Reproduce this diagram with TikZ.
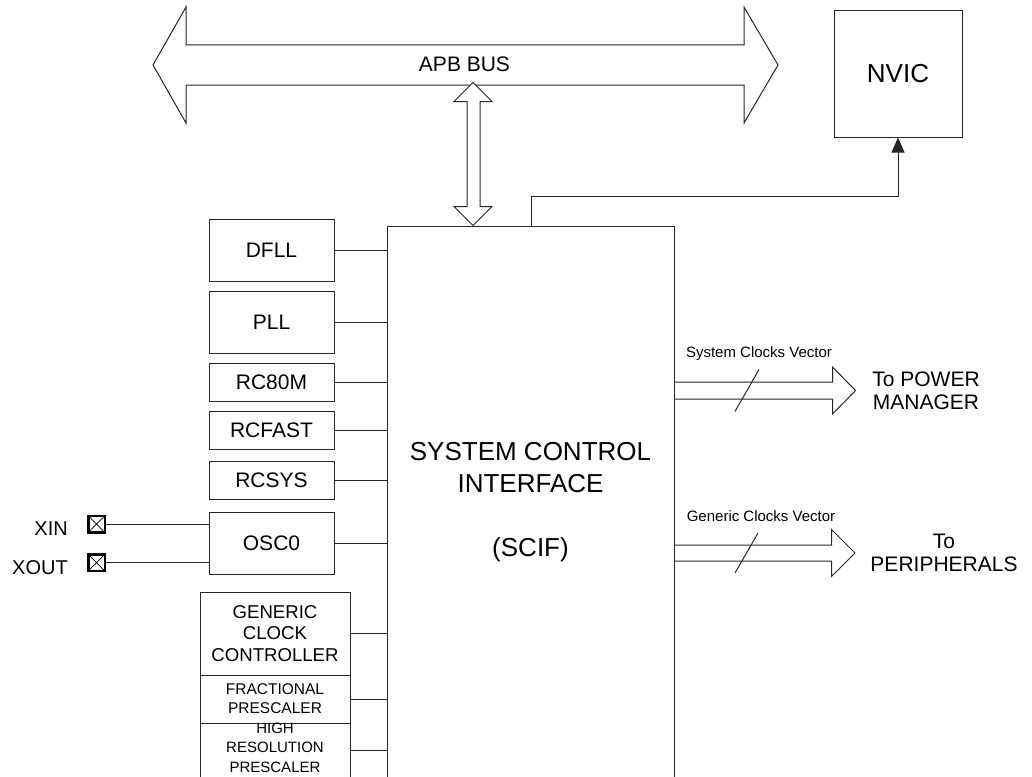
\documentclass[tikz,border=0pt]{standalone}
\usepackage{fontspec}
\setmainfont{Liberation Sans}
\usetikzlibrary{arrows.meta,positioning}
\tikzset{
  blk/.style={rectangle, draw=black!85, line width=1pt, minimum width=125pt, align=center, inner sep=1pt, font=\fontsize{21}{23}\selectfont},
  tallblk/.style={blk, minimum height=62pt},
  lowblk/.style={blk, minimum height=38pt},
  genblk/.style={blk, minimum width=150pt},
  pad/.style={draw=black, line width=2.5pt, minimum size=16.5pt, inner sep=0pt,
    path picture={\draw[line width=0.7pt] (path picture bounding box.south west) -- (path picture bounding box.north east)
      (path picture bounding box.north west) -- (path picture bounding box.south east);}},
  wire/.style={draw=black!85, line width=1pt},
  arr/.style={wire, -{Triangle[length=15pt,width=13pt]}},
  fat/.style={wire, line join=miter},
  lbl/.style={inner sep=0pt, align=center, font=\fontsize{21}{23}\selectfont},
  vec/.style={inner sep=0pt, font=\fontsize{15}{17}\selectfont}
}

\begin{document}
\begin{tikzpicture}[x=1pt, y=-1pt]
\clip (0,0) rectangle (1032,776);

% APB bus
\draw[fat, fill=white] (153,65) -- (186,7) -- (186,45) -- (744,45) -- (744,7) -- (778,65)
  -- (744,123) -- (744,85) -- (186,85) -- (186,123) -- cycle;
\node[lbl] (apb) at (464.5,64) {APB BUS};

\node[blk, minimum width=128pt, minimum height=126pt, font=\fontsize{26}{28}\selectfont] (nvic) at (898,74) {NVIC};
\node[blk, minimum width=287pt, minimum height=552pt, font=\fontsize{26}{32}\selectfont] (scif) at (530.5,502)
  {SYSTEM CONTROL\\INTERFACE\\[32pt](SCIF)};

% clock sources
\node[tallblk] (dfll) at (271.5,250) {DFLL};
\node[tallblk, below=9pt of dfll] (pll) {PLL};
\node[lowblk, below=9pt of pll] (rc80m) {RC80M};
\node[lowblk, below=9pt of rc80m] (rcfast) {RCFAST};
\node[lowblk, below=11pt of rcfast] (rcsys) {RCSYS};
\node[tallblk, below=12pt of rcsys] (osc) {OSC0};

\node[genblk, minimum height=83pt, font=\fontsize{18.6}{21.7}\selectfont] (gcc) at (275,633.5) {GENERIC\\CLOCK\\CONTROLLER};
\node[genblk, minimum height=48pt, below=-1pt of gcc, font=\fontsize{15.5}{19}\selectfont] (frac) {FRACTIONAL\\PRESCALER};
\node[genblk, minimum height=55pt, below=-1pt of frac,
  label={[lbl, font=\fontsize{15}{19.5}\selectfont, yshift=3pt]center:{HIGH\\RESOLUTION\\PRESCALER}}] (high) {};

\foreach \n in {dfll,pll,rc80m,rcfast,rcsys,osc,gcc,frac,high}
  \draw[wire] (\n.east) -- (\n.east -| scif.west);

% crystal pins
\node[pad] (xin) at (96.5,524) {};
\node[pad] (xout) at (96.5,562.5) {};
\node[lbl, left=19pt of xin, yshift=-5pt, font=\fontsize{20}{22}\selectfont] (xinname) {XIN};
\node[lbl, left=19pt of xout, yshift=-5pt, font=\fontsize{20}{22}\selectfont] (xoutname) {XOUT};
\draw[wire] (xin.east) -- (xin.east -| osc.west);
\draw[wire] (xout.east) -- (xout.east -| osc.west);

% APB link
\draw[fat, fill=white] (scif.north -| 473,0) -- ++(19,-19) -- ++(-12,0) -- ++(0,-105) -- ++(12,0) -- ++(-19,-19)
  -- ++(-19,19) -- ++(13,0) -- ++(0,105) -- ++(-13,0) -- cycle;

% interrupt line
\coordinate (irq) at (531,196);
\draw[arr] (irq |- scif.north) -- (irq) -| (nvic.south);

% clock vectors
\coordinate (sysv) at (747,390.5);
\draw[fat] (scif.east |- sysv) ++(0,-8.5) -- ++(158,0) -- ++(0,-15) -- ++(23,23.5) -- ++(-23,23.5) -- ++(0,-15) -- ++(-158,0);
\draw[wire] (sysv) ++(-12,21) -- ++(24,-42);
\node[vec] (sysname) at (759,354) {System Clocks Vector};
\node[lbl] (pm) at (926,391) {To POWER\\MANAGER};

\coordinate (genv) at (746.5,553);
\draw[fat] (scif.east |- genv) ++(0,-8) -- ++(157,0) -- ++(0,-15.5) -- ++(23.5,23.5) -- ++(-23.5,23.5) -- ++(0,-15.5) -- ++(-157,0);
\draw[wire] (genv) ++(-11.5,20) -- ++(23,-40);
\node[vec] (genname) at (761,516) {Generic Clocks Vector};
\node[lbl] (periph) at (944,553) {To\\PERIPHERALS};
\end{tikzpicture}
\end{document}
